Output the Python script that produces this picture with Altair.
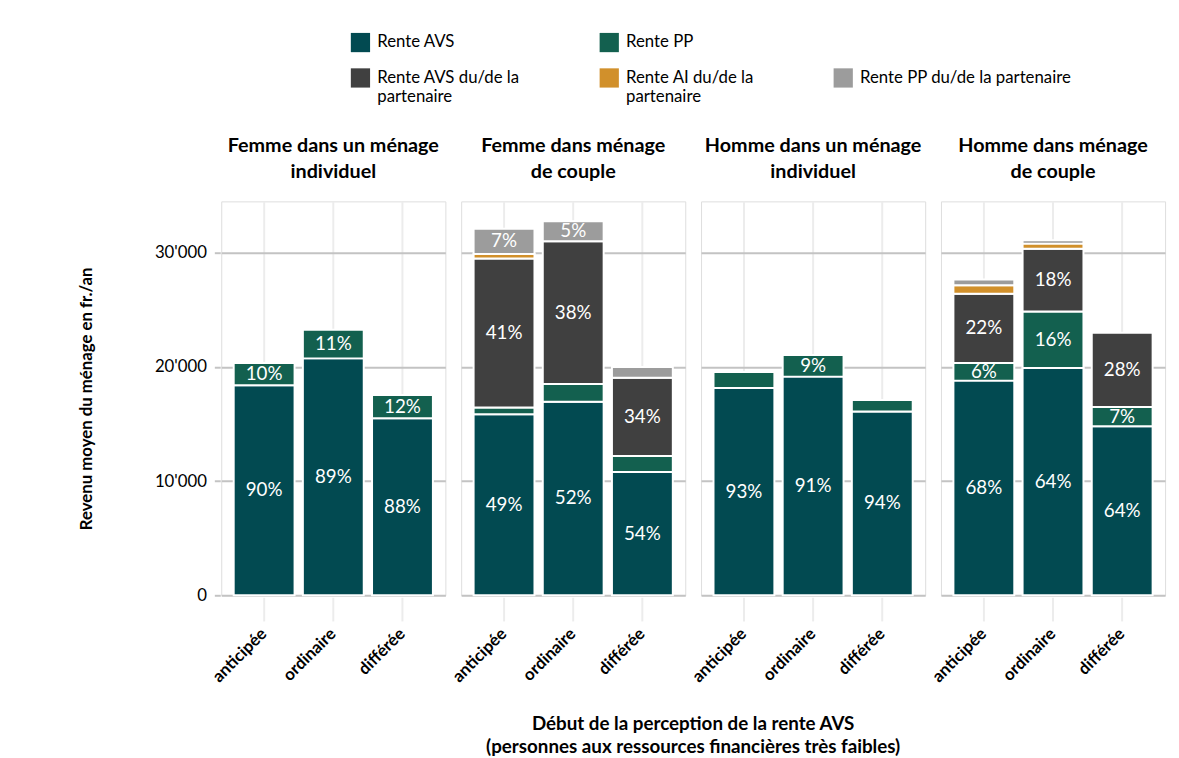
import json
import altair as alt
import pandas as pd

# ---------------- data ----------------
panels = [
    "Femme dans un ménage individuel",
    "Femme dans ménage de couple",
    "Homme dans un ménage individuel",
    "Homme dans ménage de couple",
]
panel_lines = [
    ["Femme dans un ménage", "individuel"],
    ["Femme dans ménage", "de couple"],
    ["Homme dans un ménage", "individuel"],
    ["Homme dans ménage", "de couple"],
]
timings = ["anticipée", "ordinaire", "différée"]
series = [
    "Rente AVS",
    "Rente PP",
    "Rente AVS du/de la partenaire",
    "Rente AI du/de la partenaire",
    "Rente PP du/de la partenaire",
]
series_lines = [
    ["Rente AVS"],
    ["Rente PP"],
    ["Rente AVS du/de la", "partenaire"],
    ["Rente AI du/de la", "partenaire"],
    ["Rente PP du/de la partenaire"],
]
colors = ["#024a51", "#13604f", "#404040", "#d1902b", "#9c9c9c"]

# values (fr./an), in order panel x timing
avs   = [18400, 20750, 15500, 15850, 16950, 10800, 18150, 19150, 16100, 18800, 19900, 14800]
pp    = [1950, 2500, 2050, 600, 1550, 1400, 1400, 1900, 1000, 1550, 4950, 1700]
avs_p = [0, 0, 0, 13050, 12500, 6850, 0, 0, 0, 6050, 5500, 6500]
ai_p  = [0, 0, 0, 400, 0, 0, 0, 0, 0, 750, 450, 0]
pp_p  = [0, 0, 0, 2200, 1750, 950, 0, 0, 0, 500, 300, 0]

lab_avs   = ["90%", "89%", "88%", "49%", "52%", "54%", "93%", "91%", "94%", "68%", "64%", "64%"]
lab_pp    = ["10%", "11%", "12%", "", "", "", "", "9%", "", "6%", "16%", "7%"]
lab_avs_p = ["", "", "", "41%", "38%", "34%", "", "", "", "22%", "18%", "28%"]
lab_ai_p  = ["", "", "", "", "", "", "", "", "", "", "", ""]
lab_pp_p  = ["", "", "", "7%", "5%", "", "", "", "", "", "", ""]

values = [avs, pp, avs_p, ai_p, pp_p]
labels = [lab_avs, lab_pp, lab_avs_p, lab_ai_p, lab_pp_p]

rows = []
for s_i, s in enumerate(series):
    k = 0
    for p in panels:
        for t in timings:
            v = values[s_i][k]
            if v > 0:
                rows.append({"panel": p, "timing": t, "series": s, "order": s_i,
                             "value": v, "label": labels[s_i][k]})
            k += 1
df = pd.DataFrame(rows)

FONT = "Lato"

# legend with a blank slot so that row 1 has two entries and row 2 three
leg_domain = series[:2] + [" "] + series[2:]
leg_range = colors[:2] + ["transparent"] + colors[2:]
leg_map = {s: l for s, l in zip(series, series_lines)}
leg_expr = json.dumps(leg_map, ensure_ascii=False) + "[datum.label] || datum.label"
head_map = {p: l for p, l in zip(panels, panel_lines)}
head_expr = json.dumps(head_map, ensure_ascii=False) + "[datum.value] || datum.value"

base = alt.Chart().transform_stack(
    stack="value", groupby=["panel", "timing"], as_=["y0", "y1"],
    sort=[alt.SortField("order", order="ascending")],
).transform_calculate(mid="(datum.y0 + datum.y1) / 2")

x_enc = alt.X(
    "timing:N", sort=timings,
    scale=alt.Scale(paddingInner=0.12, paddingOuter=0.18),
    axis=alt.Axis(
        title=None, labelAngle=-45, labelAlign="right", labelBaseline="middle",
        labelFont=FONT, labelFontSize=17, labelFontWeight="bold", labelColor="#000000",
        labelPadding=10, tickSize=24, tickColor="#ececec", tickWidth=2,
        grid=True, gridColor="#ececec", gridWidth=2, domain=False,
    ),
)

bars = base.mark_bar(stroke="white", strokeWidth=2).encode(
    x=x_enc,
    y=alt.Y(
        "y0:Q",
        scale=alt.Scale(domain=[0, 34500], nice=False, padding=0),
        axis=alt.Axis(
            title="Revenu moyen du ménage en fr./an", titleFont=FONT, titleFontSize=17,
            titleFontWeight="bold", titleColor="#000000", titlePadding=60,
            values=[0, 10000, 20000, 30000],
            labelExpr="replace(format(datum.value, ','), ',', \"'\")",
            labelFont=FONT, labelFontSize=17, labelColor="#000000", labelPadding=8,
            tickSize=6, tickColor="#c3c3c3", tickWidth=2,
            grid=True, gridColor="#c3c3c3", gridWidth=2, domain=False,
        ),
    ),
    y2="y1:Q",
    color=alt.Color(
        "series:N",
        scale=alt.Scale(domain=leg_domain, range=leg_range),
        legend=alt.Legend(
            title=None, orient="none", legendX=131, legendY=-171, columns=3,
            direction="horizontal",
            symbolType="square", symbolSize=380, symbolStrokeWidth=0,
            labelFont=FONT, labelFontSize=17, labelColor="#000000",
            labelExpr=leg_expr, labelOffset=7, columnPadding=80, rowPadding=16,
            labelLimit=400,
        ),
    ),
)

text = base.mark_text(font=FONT, fontSize=19, color="white").encode(
    x=alt.X("timing:N", sort=timings),
    y=alt.Y("mid:Q"),
    text="label:N",
).transform_filter("datum.label != ''")

chart = alt.layer(bars, text, data=df).properties(width=227, height=399).facet(
    column=alt.Column(
        "panel:N", sort=panels,
        title=["Début de la perception de la rente AVS",
               "(personnes aux ressources financières très faibles)"],
        header=alt.Header(
            labelOrient="top", labelExpr=head_expr, labelFont=FONT, labelFontSize=20,
            labelFontWeight="bold", labelColor="#000000", labelLineHeight=26,
            labelPadding=19,
            titleOrient="bottom", titleFont=FONT, titleFontSize=19, titleFontWeight="bold",
            titleColor="#000000", titleLineHeight=24, titlePadding=20,
        ),
    ),
    spacing=14,
).properties(
    padding={"left": 70, "top": 20, "right": 5, "bottom": 0},
).configure_view(strokeWidth=0).configure(background="white")

chart.save("out.html", embed_options={"renderer": "svg", "actions": False})
